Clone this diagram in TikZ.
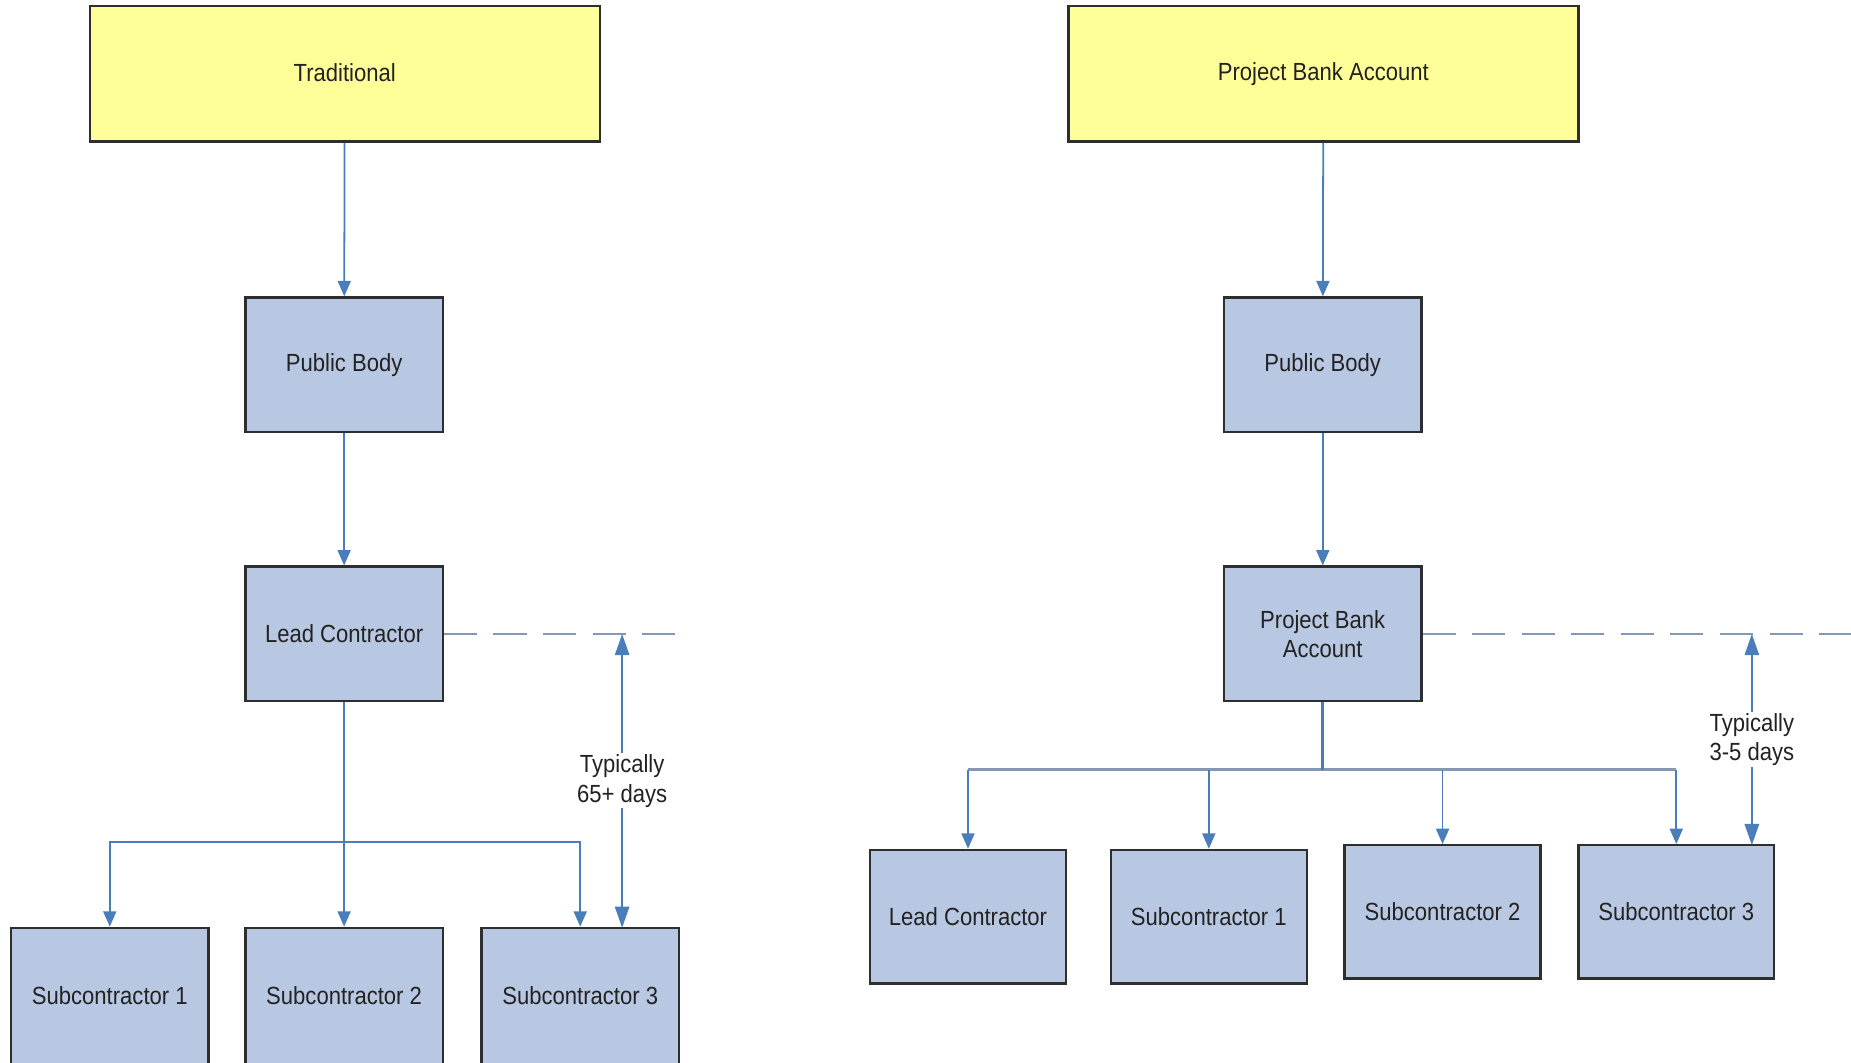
\documentclass[tikz,border=0pt]{standalone}
\usepackage{fontspec}
\setmainfont{Liberation Sans}[FakeStretch=0.89]
\usetikzlibrary{arrows.meta}
\definecolor{boxfill}{HTML}{B8C8E2}
\definecolor{yfill}{HTML}{FFFF99}
\definecolor{arrowblue}{HTML}{4A7EBB}
\definecolor{dashcol}{HTML}{8497B5}
\definecolor{edgecol}{HTML}{2E2E2E}
\definecolor{txt}{HTML}{222222}
\tikzset{
  x=1pt, y=1pt,
  basebox/.style={draw=edgecol, line width=2pt, text=txt, font=\fontsize{21}{25}\selectfont, align=center, inner sep=0pt},
  titlebox/.style={basebox, fill=yfill, minimum width=432pt, minimum height=115pt},
  bluebox/.style={basebox, fill=boxfill, minimum width=167pt, minimum height=114pt},
  lowbox/.style={basebox, fill=boxfill, minimum width=166pt, minimum height=113pt},
  conn/.style={draw=arrowblue, line width=1.5pt, -{Triangle[width=11pt,length=13pt]}},
  plainconn/.style={draw=arrowblue, line width=1.5pt},
  thickconn/.style={draw=dashcol, line width=3pt},
  dashline/.style={draw=dashcol, line width=2pt, dash pattern=on 28pt off 14pt},
  dblarrow/.style={draw=arrowblue, line width=2pt, {Triangle[width=12pt,length=18pt]}-{Triangle[width=12pt,length=18pt]}},
  lbl/.style={fill=white, text=txt, font=\fontsize{21}{25}\selectfont, align=center, inner sep=1pt}
}
\begin{document}
\begin{tikzpicture}
\useasboundingbox (0,0) rectangle (1568,-900);
\clip (0,0) rectangle (1568,-900);
% ---------- left: Traditional ----------
\node[titlebox] (trad) at (292,-62.5) {\raisebox{2pt}{Traditional}};
\node[bluebox] (pbL) at (291.5,-309) {Public Body};
\node[bluebox] (lcL) at (291.5,-537) {Lead Contractor};
\node[bluebox, minimum height=134pt] (s1L) at (93,-853) {\raisebox{20pt}{Subcontractor 1}};
\node[bluebox, minimum height=134pt] (s2L) at (291.5,-853) {\raisebox{20pt}{Subcontractor 2}};
\node[bluebox, minimum height=134pt] (s3L) at (491.5,-853) {\raisebox{20pt}{Subcontractor 3}};
\draw[conn] (trad) -- (pbL);
\draw[conn] (pbL) -- (lcL);
\draw[conn] (lcL) -- (s2L);
\coordinate (bL) at (291.5,-713);
\draw[conn] (bL) -| (s1L.north);
\draw[conn] (bL) -| (s3L.north);
\coordinate (dL) at (573,-537);
\draw[dashline] (lcL.east) -- (dL);
\coordinate (tL) at (527,-537);
\coordinate (uL) at (527,-786);
\draw[dblarrow] (tL) -- node[lbl] (labL) {Typically\\65+ days} (uL);
% ---------- right: Project Bank Account ----------
\node[titlebox] (pbaT) at (1121,-62.5) {\raisebox{2pt}{Project Bank Account}};
\node[bluebox] (pbR) at (1120.5,-309) {Public Body};
\node[bluebox] (pbaR) at (1120.5,-537) {Project Bank\\Account};
\node[lowbox] (lcR) at (820,-776.5) {Lead Contractor};
\node[lowbox] (s1R) at (1024,-776.5) {Subcontractor 1};
\node[lowbox] (s2R) at (1222,-772.5) {Subcontractor 2};
\node[lowbox] (s3R) at (1420,-772.5) {Subcontractor 3};
\draw[conn] (pbaT) -- (pbR);
\draw[conn] (pbR) -- (pbaR);
\coordinate (bR) at (1120.5,-652);
\coordinate (hA) at (820,-652);
\coordinate (hB) at (1420,-652);
\draw[thickconn] (hA) -- (hB);
\draw[plainconn, line width=2.5pt] (pbaR.south) -- (bR);
\draw[conn] (hA) -- (lcR.north);
\draw[conn] (1024,-652) -- (s1R.north);
\draw[conn] (1222,-652) -- (s2R.north);
\draw[conn] (hB) -- (s3R.north);
\coordinate (dR) at (1568,-537);
\draw[dashline] (pbaR.east) -- (dR);
\coordinate (tR) at (1484,-537);
\coordinate (uR) at (1484,-716);
\draw[dblarrow] (tR) -- node[lbl] (labR) {Typically\\3-5 days} (uR);
\end{tikzpicture}
\end{document}
